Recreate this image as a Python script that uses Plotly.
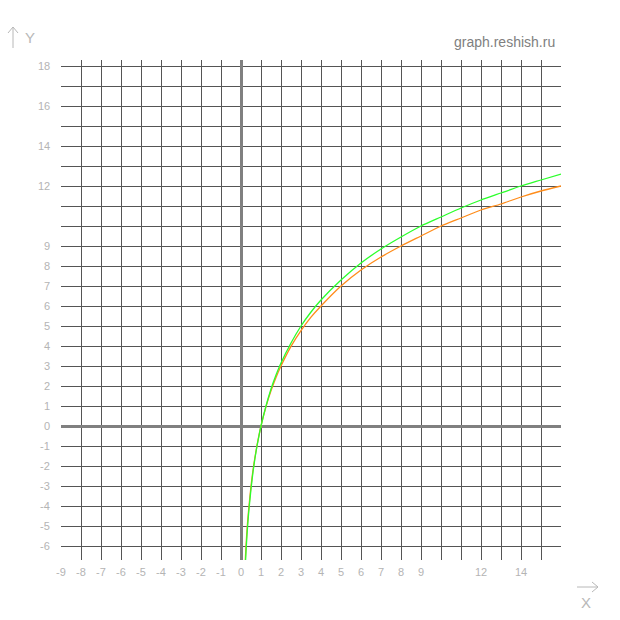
import plotly.graph_objects as go

# ---- data ----
x_pts = [0.2, 0.22, 0.25, 0.3, 0.35, 0.4, 0.5, 0.6, 0.7, 0.8, 0.9, 1.0, 1.25, 1.5, 1.75,
         2.0, 2.5, 3.0, 3.5, 4.0, 5.0, 6.0, 7.0, 8.0, 9.0, 10.0, 11.0, 12.0, 13.0, 14.0, 15.0, 16.0]
orange_y = [-7.0, -6.6, -6.0, -5.2, -4.55, -4.0, -3.0, -2.2, -1.55, -0.97, -0.46, 0.0, 0.97, 1.76, 2.43,
            3.0, 3.98, 4.77, 5.44, 6.0, 7.0, 7.8, 8.45, 9.0, 9.5, 10.0, 10.4, 10.8, 11.1, 11.45, 11.75, 12.0]
green_y = [-7.3, -6.9, -6.3, -5.45, -4.75, -4.15, -3.15, -2.3, -1.6, -1.0, -0.48, 0.0, 1.0, 1.85, 2.55,
           3.15, 4.15, 5.0, 5.7, 6.3, 7.3, 8.15, 8.85, 9.45, 10.0, 10.45, 10.9, 11.3, 11.65, 12.0, 12.3, 12.6]

x_grid = list(range(-9, 16))
y_grid = list(range(-6, 19))
x_tick_vals = [-9, -8, -7, -6, -5, -4, -3, -2, -1, 0, 1, 2, 3, 4, 5, 6, 7, 8, 9, 12, 14]
y_tick_vals = [18, 16, 14, 12, 9, 8, 7, 6, 5, 4, 3, 2, 1, 0, -1, -2, -3, -4, -5, -6]

FONT = "Liberation Sans, Arial, sans-serif"
LABEL = "#b4b4b4"
DECO = "#b8b8b8"

W, H = 620, 620
ml, mr, mt, mb = 61, 59, 60, 60
pw, ph = W - ml - mr, H - mt - mb


def px(x):
    return (x - ml) / pw


def py(y):
    return (H - mb - y) / ph


fig = go.Figure()
fig.add_trace(go.Scatter(x=x_pts, y=orange_y, mode="lines",
                         line=dict(color="#ff8c1a", width=1.3, shape="spline", smoothing=0.6), hoverinfo="skip"))
fig.add_trace(go.Scatter(x=x_pts, y=green_y, mode="lines",
                         line=dict(color="#2bff2b", width=1.3, shape="spline", smoothing=0.6), hoverinfo="skip"))

annotations = []
for v in x_tick_vals:
    annotations.append(dict(x=v, y=0, xref="x", yref="paper", yshift=-12, text=str(v), showarrow=False,
                            font=dict(family=FONT, size=11, color=LABEL), xanchor="center", yanchor="middle"))
for v in y_tick_vals:
    annotations.append(dict(x=0, y=v, xref="paper", yref="y", xshift=-9, text=str(v), showarrow=False,
                            font=dict(family=FONT, size=11, color=LABEL), xanchor="right", yanchor="middle"))
annotations += [
    dict(x=px(557), y=py(42), xref="paper", yref="paper", text="graph.reshish.ru", showarrow=False,
         xanchor="right", yanchor="middle", font=dict(family=FONT, size=14, color="#808080")),
    dict(x=px(23), y=py(38), xref="paper", yref="paper", text="Y", showarrow=False, xanchor="left",
         yanchor="middle", font=dict(family=FONT, size=15, color=DECO)),
    dict(x=px(586), y=py(602), xref="paper", yref="paper", text="X", showarrow=False, xanchor="center",
         yanchor="middle", font=dict(family=FONT, size=15, color=DECO)),
]


def path(points):
    return "M " + " L ".join(f"{px(a):.5f},{py(b):.5f}" for a, b in points)


shapes = [
    # Y arrow
    dict(type="path", xref="paper", yref="paper", path=path([(13, 48), (13, 27)]), line=dict(color=DECO, width=1)),
    dict(type="path", xref="paper", yref="paper", path=path([(8, 33), (13, 27), (18, 33)]), line=dict(color=DECO, width=1)),
    # X arrow
    dict(type="path", xref="paper", yref="paper", path=path([(577, 587), (598, 587)]), line=dict(color=DECO, width=1)),
    dict(type="path", xref="paper", yref="paper", path=path([(592, 582), (598, 587), (592, 592)]), line=dict(color=DECO, width=1)),
]

fig.update_layout(
    width=W, height=H, margin=dict(l=ml, r=mr, t=mt, b=mb),
    paper_bgcolor="white", plot_bgcolor="white", showlegend=False,
    annotations=annotations, shapes=shapes,
    xaxis=dict(range=[-9, 16], tickmode="array", tickvals=x_grid, showticklabels=False, ticks="",
               showgrid=True, gridcolor="#555555", gridwidth=1, zeroline=True, zerolinecolor="#808080",
               zerolinewidth=3, showline=False, fixedrange=True),
    yaxis=dict(range=[-6.7, 18.3], tickmode="array", tickvals=y_grid, showticklabels=False, ticks="",
               showgrid=True, gridcolor="#555555", gridwidth=1, zeroline=True, zerolinecolor="#808080",
               zerolinewidth=3, showline=False, fixedrange=True),
)
fig.write_html("out.html", config={"displayModeBar": False},
               post_script="document.body.style.margin='0';document.body.style.padding='0';")
